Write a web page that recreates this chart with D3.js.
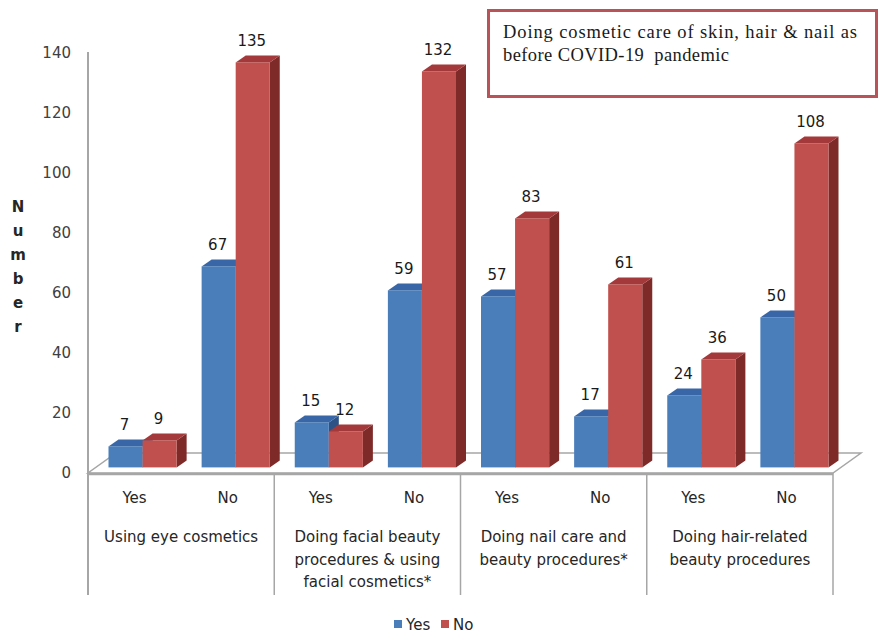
<!DOCTYPE html>
<html>
<head>
<meta charset="utf-8">
<script src="https://cdn.jsdelivr.net/npm/d3@7"></script>
<style>
  body { margin: 0; background: #fff; }
</style>
</head>
<body>
<div id="chart"></div>
<script>
var svgWidth = 878;
var svgHeight = 636;

// Data
var groups = [
    ["Using eye cosmetics"],
    ["Doing facial beauty", "procedures & using", "facial cosmetics*"],
    ["Doing nail care and", "beauty procedures*"],
    ["Doing hair-related", "beauty procedures"]
];
var subCats = ["Yes", "No"];
var seriesNames = ["Yes", "No"];
var yesValues = [7, 67, 15, 59, 57, 17, 24, 50];
var noValues = [9, 135, 12, 132, 83, 61, 36, 108];
var yTicks = [0, 20, 40, 60, 80, 100, 120, 140];
var titleLines = ["Doing cosmetic care of skin, hair & nail as", "before COVID-19  pandemic"];
var titleWidths = [354, 226];

var colors = {
    Yes: { front: "#4a7ebb", top: "#3866a6", side: "#2d5386" },
    No: { front: "#c0504d", top: "#a3393a", side: "#7e2a29" }
};
var sans = "DejaVu Sans, sans-serif";

// plot geometry
var left = 88, right = 833, floorY = 473;
var depth = { x: 28, y: -20 };       // floor depth
var barOff = { x: 8, y: -5.6 };      // bar front face offset into the floor
var barDepth = { x: 10, y: -7 };

var svg = d3.select("#chart")
    .append("svg")
    .attr("width", svgWidth)
    .attr("height", svgHeight)
    .attr("font-family", sans);

var slots = [];
groups.forEach(function(g, gi) {
    subCats.forEach(function(s, si) { slots.push(gi + "-" + si); });
});

var xScale = d3.scaleBand()
    .domain(slots)
    .range([left, right]);

var xSeries = d3.scaleBand()
    .domain(seriesNames)
    .range([12.5, xScale.bandwidth() - 12.5]);

var yScale = d3.scaleLinear()
    .domain([0, 140])
    .range([floorY, floorY - 420]);

// Floor
svg.append("polygon")
    .attr("points", [
        [left, floorY], [right, floorY],
        [right + depth.x, floorY + depth.y], [left + depth.x, floorY + depth.y]
    ].map(function(p) { return p.join(","); }).join(" "))
    .attr("fill", "#fff")
    .attr("stroke", "#a6a6a6")
    .attr("stroke-width", 1.5);

svg.append("line")
    .attr("x1", left).attr("x2", right)
    .attr("y1", floorY + 1).attr("y2", floorY + 1)
    .attr("stroke", "#a6a6a6")
    .attr("stroke-width", 2.5);

// Y axis line and category separators
svg.append("line")
    .attr("x1", left).attr("x2", left)
    .attr("y1", yScale(140) - 1).attr("y2", 595)
    .attr("stroke", "#a6a6a6")
    .attr("stroke-width", 2);

[1, 2, 3, 4].forEach(function(k) {
    var x = xScale(slots[k * 2 - 1]) + xScale.bandwidth();
    svg.append("line")
        .attr("x1", x).attr("x2", x)
        .attr("y1", floorY).attr("y2", 595)
        .attr("stroke", "#a6a6a6")
        .attr("stroke-width", 1.5);
});

// Y axis
var yAxis = d3.axisLeft(yScale)
    .tickValues(yTicks)
    .tickSize(0)
    .tickPadding(0);

var yG = svg.append("g")
    .attr("transform", "translate(71,0)")
    .call(yAxis);
yG.select(".domain").remove();
yG.attr("font-family", sans).attr("font-size", 15);
yG.selectAll("text").attr("fill", "#404040");

// Y title, stacked letters
svg.selectAll(".ytitle")
    .data("Number".split(""))
    .enter()
    .append("text")
    .attr("class", "ytitle")
    .attr("x", 18)
    .attr("y", function(d, i) { return 212 + i * 24; })
    .attr("text-anchor", "middle")
    .attr("font-size", "15px")
    .attr("font-weight", "bold")
    .attr("fill", "#262626")
    .text(function(d) { return d; });

// Bars
var bars = [];
slots.forEach(function(slot, i) {
    bars.push({ slot: slot, series: "Yes", value: yesValues[i] });
    bars.push({ slot: slot, series: "No", value: noValues[i] });
});

var barW = xSeries.bandwidth();

function poly(pts) {
    return pts.map(function(p) { return p.join(","); }).join(" ");
}

var barG = svg.selectAll(".bar")
    .data(bars)
    .enter()
    .append("g")
    .attr("class", "bar");

barG.each(function(d) {
    var g = d3.select(this);
    var x0 = xScale(d.slot) + xSeries(d.series) + barOff.x;
    var x1 = x0 + barW;
    var yTop = yScale(d.value) + barOff.y;
    var yBot = yScale(0) + barOff.y;
    var c = colors[d.series];

    g.append("polygon")
        .attr("points", poly([[x1, yTop], [x1 + barDepth.x, yTop + barDepth.y],
            [x1 + barDepth.x, yBot + barDepth.y], [x1, yBot]]))
        .attr("fill", c.side);
    g.append("polygon")
        .attr("points", poly([[x0, yTop], [x1, yTop],
            [x1 + barDepth.x, yTop + barDepth.y], [x0 + barDepth.x, yTop + barDepth.y]]))
        .attr("fill", c.top);
    g.append("rect")
        .attr("x", x0)
        .attr("y", yTop)
        .attr("width", barW)
        .attr("height", yBot - yTop)
        .attr("fill", c.front);

    g.append("text")
        .attr("x", (x0 + x1) / 2 - 1)
        .attr("y", yTop - 16)
        .attr("text-anchor", "middle")
        .attr("font-size", "15px")
        .attr("fill", "#1a1a1a")
        .text(d.value);
});

// Category labels
svg.selectAll(".sub")
    .data(slots)
    .enter()
    .append("text")
    .attr("class", "sub")
    .attr("x", function(d) { return xScale(d) + xScale.bandwidth() / 2; })
    .attr("y", 503)
    .attr("text-anchor", "middle")
    .attr("font-size", "15px")
    .attr("fill", "#262626")
    .text(function(d) { return subCats[+d.split("-")[1]]; });

groups.forEach(function(lines, gi) {
    var cx = xScale(gi + "-1");
    lines.forEach(function(line, li) {
        svg.append("text")
            .attr("x", cx)
            .attr("y", 542 + li * 22.5)
            .attr("text-anchor", "middle")
            .attr("font-size", "15px")
            .attr("fill", "#262626")
            .text(line);
    });
});

// Legend
var legend = svg.append("g");
var legendX = [394, 441];
seriesNames.forEach(function(s, i) {
    legend.append("rect")
        .attr("x", legendX[i])
        .attr("y", 620)
        .attr("width", 8)
        .attr("height", 8)
        .attr("fill", colors[s].front);
    legend.append("text")
        .attr("x", legendX[i] + 12)
        .attr("y", 629.5)
        .attr("font-size", "15px")
        .attr("fill", "#262626")
        .text(s);
});

// Title box
svg.append("rect")
    .attr("x", 488.5)
    .attr("y", 10.5)
    .attr("width", 388)
    .attr("height", 86)
    .attr("fill", "#fff")
    .attr("stroke", "#b85457")
    .attr("stroke-width", 3);

titleLines.forEach(function(t, i) {
    svg.append("text")
        .attr("x", 503)
        .attr("y", 38 + i * 23)
        .attr("font-family", "Liberation Serif, serif")
        .attr("font-size", "18.5px")
        .attr("fill", "#1a1a1a")
        .attr("textLength", titleWidths[i])
        .attr("lengthAdjust", "spacing")
        .style("white-space", "pre")
        .text(t);
});
</script>
</body>
</html>
